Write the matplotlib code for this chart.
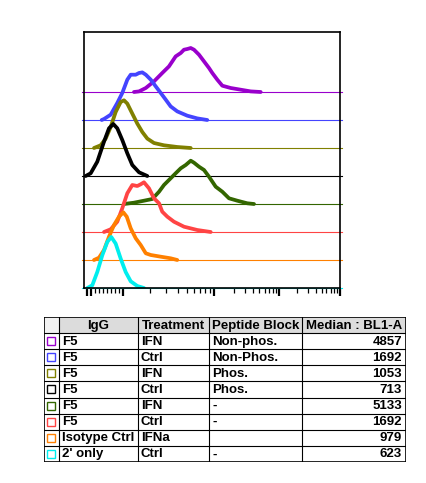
import numpy as np
import matplotlib.pyplot as plt
from matplotlib.patches import Rectangle

plt.rcParams['font.family'] = ['Liberation Sans', 'DejaVu Sans']

purple_x = [1320, 1500, 1780, 2190, 2700, 3200, 3790, 4310, 4680, 5090, 5550, 6030,
            6840, 7770, 8810, 9580, 11240, 13420, 18070, 25750, 36690, 52300]
purple_h = [0, 0.6, 4, 10.6, 19, 25.6, 35.6, 39, 42.3, 43, 44, 42.3,
            37.3, 30.6, 24, 19, 12.3, 6.3, 4, 2.3, 0.6, 0]
blue_x = [467, 525, 692, 857, 982, 1115, 1215, 1380, 1500, 1630, 1780, 2020,
          2290, 2600, 2950, 3340, 3950, 5090, 6550, 8440]
blue_h = [0, 1, 5.3, 17, 27, 40.3, 45.3, 45.3, 47, 47.6, 45.3, 40.3,
          33.6, 27, 20.3, 13.6, 8.6, 4.3, 1.6, 0]
olive_x = [275, 442, 567, 692, 817, 942, 1025, 1115, 1265, 1436, 1630, 1850,
           2190, 2820, 3950, 5550]
olive_h = [0, 2.7, 9.4, 21, 36, 46, 47.7, 44.4, 34.4, 24.4, 16, 9.4,
           5, 2.7, 1, 0]
black_x = [67, 192, 357, 525, 650, 757, 857, 982, 1115, 1265, 1500, 1850]
black_h = [0, 2.7, 14.3, 34.3, 47.7, 52, 47.7, 36, 22.7, 11, 3.7, 0]
green_x = [1025, 1320, 1700, 2100, 2490, 2820, 3200, 3790, 4310, 4890, 5550,
           6030, 6840, 7770, 8810, 10620, 13420, 17010, 22830, 32530, 41250]
green_h = [0, 1.3, 3.3, 5, 12.3, 19, 24, 30.7, 35.7, 39, 43.3,
           41.3, 37.3, 34, 27.3, 17.3, 12.3, 5.7, 3.3, 0.7, 0]
red_x = [525, 692, 857, 982, 1115, 1265, 1436, 1565, 1700, 1930, 2190, 2490,
         2700, 3070, 3630, 4680, 6550, 9200]
red_h = [0, 2.7, 10.3, 23.7, 38.7, 47, 46, 47.7, 49.7, 43.7, 33.7, 28.7,
         20.3, 15.3, 10.3, 5.3, 2, 0]
orange_x = [275, 400, 525, 650, 775, 900, 1008, 1100, 1215, 1380, 1565, 1780,
            2020, 2600, 3340, 3950]
orange_h = [0, 2.3, 10, 23.3, 35, 43.3, 47.7, 43.3, 31.7, 21.7, 15, 6.7,
            5, 3.3, 1.7, 0]
cyan_x = [107, 232, 357, 482, 607, 707, 817, 942, 1070, 1215, 1436, 1700]
cyan_h = [0, 2.7, 16, 32.7, 46, 51, 44.4, 29.4, 16, 6.7, 2, 0]

colors = ['#9900cc', '#4444ff', '#808000', '#000000',
          '#336600', '#ff4444', '#ff8000', '#00eeee']

# table
igg = ['F5', 'F5', 'F5', 'F5', 'F5', 'F5', 'Isotype Ctrl', "2' only"]
treatment = ['IFN', 'Ctrl', 'IFN', 'Ctrl', 'IFN', 'Ctrl', 'IFNa', 'Ctrl']
peptide = ['Non-phos.', 'Non-Phos.', 'Phos.', 'Phos.', '-', '-', '', '-']
median = [4857, 1692, 1053, 713, 5133, 1692, 979, 623]
headers = ['', 'IgG', 'Treatment', 'Peptide Block', 'Median : BL1-A']

traces = [(purple_x, purple_h), (blue_x, blue_h), (olive_x, olive_h),
          (black_x, black_h), (green_x, green_h), (red_x, red_h),
          (orange_x, orange_h), (cyan_x, cyan_h)]
step = 28  # vertical offset between overlays


# hybrid linear / log axis like the cytometer display
dec = [3, 4, 5, 6, 7]
pos = [123, 214, 279, 340, 400]


def fwd(x):
    x = np.asarray(x, dtype=float)
    lin = 123 + (x - 1000) * 0.04
    lg = np.interp(np.log10(np.maximum(x, 1000)), dec, pos)
    return np.where(x < 1000, lin, lg)


def inv(p):
    p = np.asarray(p, dtype=float)
    lin = 1000 + (p - 123) / 0.04
    lg = 10 ** np.interp(np.maximum(p, 123), pos, dec)
    return np.where(p < 123, lin, lg)


fig = plt.figure(figsize=(4.26, 4.83), dpi=100)
ax = fig.add_axes([84 / 426, 1 - 288 / 483, 256 / 426, 256 / 483])
ax.set_xscale('function', functions=(fwd, inv))
ax.set_xlim(25, 1e6)
ax.set_ylim(0, 256)

n = len(traces)
for i, (tx, th) in enumerate(traces):
    off = (n - 1 - i) * step
    ax.axhline(off, xmin=-0.006, xmax=1.006, color=colors[i], lw=0.8,
               clip_on=False, zorder=2 + 2 * i)
    ax.plot(tx, np.array(th) + off, color=colors[i], lw=2.7,
            solid_joinstyle='round', solid_capstyle='round', zorder=3 + 2 * i)

major = [100, 200, 1e3, 1e4, 1e5, 1e6]
minor = [300, 400, 500, 600, 700, 800, 900]
for d in [1e3, 1e4, 1e5]:
    minor += [k * d for k in range(2, 10)]
ax.set_xticks(major)
ax.set_xticks(minor, minor=True)
ax.set_xticklabels([])
ax.set_xticklabels([], minor=True)
ax.tick_params(axis='x', which='major', length=6, width=1.6, direction='out')
ax.tick_params(axis='x', which='minor', length=3.5, width=0.9, direction='out')
ax.set_yticks([])
for s in ax.spines.values():
    s.set_linewidth(1.2)
    s.set_zorder(30)

# table drawn as cells
tb = fig.add_axes([44 / 426, 1 - 462 / 483, 362 / 426, 145 / 483])
tb.set_xlim(0, 362)
tb.set_ylim(145, 0)
tb.axis('off')
cols = [0, 15.3, 93.7, 165, 258.3, 362]
rh = 145 / 9
fs = 9.5
for j in range(5):
    tb.add_patch(Rectangle((cols[j], 0), cols[j + 1] - cols[j], rh,
                           facecolor='#f2f2f2' if j == 0 else '#dcdcdc',
                           edgecolor='none'))
    if headers[j]:
        tb.text((cols[j] + cols[j + 1]) / 2, rh / 2 + 0.5, headers[j],
                ha='center', va='center', fontsize=fs, fontweight='bold')
for i in range(n):
    yc = rh * (i + 1.5) + 0.5
    tb.add_patch(Rectangle((2.5, rh * (i + 1) + 4), 8, 8, facecolor='white',
                           edgecolor=colors[i], lw=1.0))
    tb.text(cols[1] + 3, yc, igg[i], ha='left', va='center',
            fontsize=fs, fontweight='bold')
    tb.text(cols[2] + 3, yc, treatment[i], ha='left', va='center',
            fontsize=fs, fontweight='bold')
    tb.text(cols[3] + 3, yc, peptide[i], ha='left', va='center',
            fontsize=fs, fontweight='bold')
    tb.text(cols[5] - 4, yc, str(median[i]), ha='right', va='center',
            fontsize=fs, fontweight='bold')
for r in range(1, 9):
    tb.plot([0, 362], [rh * r, rh * r], color='black', lw=0.8)
for c in cols[1:-1]:
    tb.plot([c, c], [0, 145], color='black', lw=0.8)
tb.add_patch(Rectangle((0, 0), 362, 145, facecolor='none',
                       edgecolor='black', lw=1.2))

fig.savefig('out.png', dpi=100)
